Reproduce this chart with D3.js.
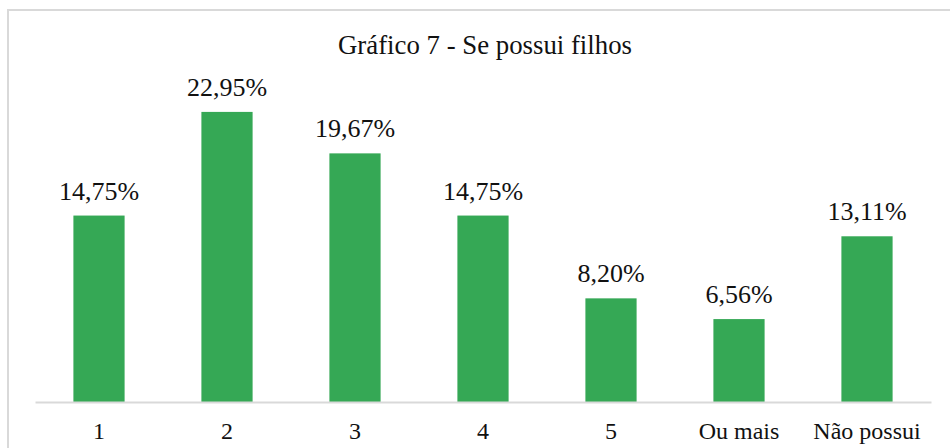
<!DOCTYPE html>
<html>
<head>
<meta charset="utf-8">
<script src="https://cdn.jsdelivr.net/npm/d3@7"></script>
<style>
  html, body { margin: 0; padding: 0; background: #fff; }
  svg { display: block; }
  text { font-family: "Liberation Serif", "Times New Roman", serif; fill: #111; }
</style>
</head>
<body>
<svg id="chart" width="950" height="448"></svg>
<script>
const titleText = "Gráfico 7 - Se possui filhos";
const categories = ["1", "2", "3", "4", "5", "Ou mais", "Não possui"];
const values = [14.75, 22.95, 19.67, 14.75, 8.20, 6.56, 13.11];
const valueLabels = ["14,75%", "22,95%", "19,67%", "14,75%", "8,20%", "6,56%", "13,11%"];

const svg = d3.select("#chart");
const serif = "'Liberation Serif', 'Times New Roman', serif";

// outer chart border (extends past right/bottom edge)
svg.append("rect")
  .attr("x", 8).attr("y", 10)
  .attr("width", 960).attr("height", 460)
  .attr("fill", "#fff")
  .attr("stroke", "#d9d9d9")
  .attr("stroke-width", 2);

const x = d3.scaleBand()
  .domain(categories)
  .range([35, 931])
  .paddingInner(0.6)
  .paddingOuter(0.3);

const y = d3.scaleLinear()
  .domain([0, 25])
  .range([402, 86]);

// title
svg.append("text")
  .attr("x", 485)
  .attr("y", 54)
  .attr("text-anchor", "middle")
  .style("font-family", serif)
  .style("font-size", "26.8px")
  .text(titleText);

// bars
svg.selectAll("rect.bar")
  .data(values)
  .enter().append("rect")
  .attr("class", "bar")
  .attr("x", (d, i) => x(categories[i]))
  .attr("y", d => y(d))
  .attr("width", x.bandwidth())
  .attr("height", d => y(0) - y(d))
  .attr("fill", "#35a855");

// data labels
svg.selectAll("text.lbl")
  .data(values)
  .enter().append("text")
  .attr("class", "lbl")
  .attr("x", (d, i) => x(categories[i]) + x.bandwidth() / 2)
  .attr("y", d => y(d) - 16)
  .attr("text-anchor", "middle")
  .style("font-family", serif)
  .style("font-size", "26px")
  .text((d, i) => valueLabels[i]);

// x axis
const xAxis = d3.axisBottom(x).tickSize(0).tickPadding(20);
const gx = svg.append("g")
  .attr("transform", `translate(0,${y(0)})`)
  .call(xAxis);
gx.select(".domain").attr("stroke", "#d9d9d9").attr("stroke-width", 2);
gx.selectAll("text")
  .style("font-size", "24px")
  .style("font-family", serif)
  .attr("fill", "#111");
</script>
</body>
</html>
